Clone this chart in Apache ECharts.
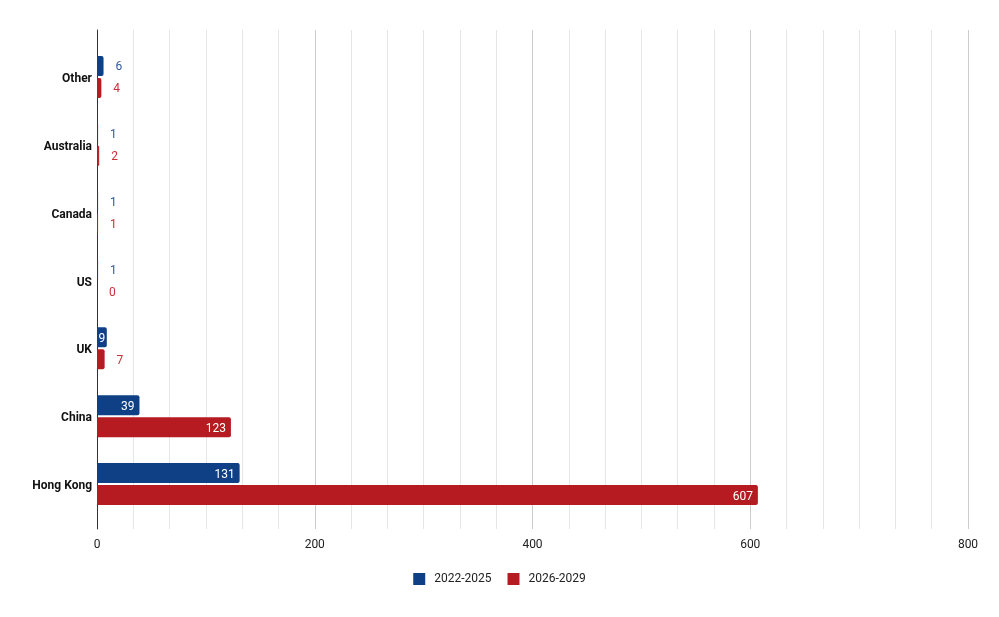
<!DOCTYPE html>
<html>
<head>
<meta charset="utf-8">
<script src="https://cdn.jsdelivr.net/npm/echarts@6/dist/echarts.min.js"></script>
<style>
  html, body { margin: 0; padding: 0; background: #fff; }
  #chart { width: 999px; height: 617px; }
</style>
</head>
<body>
<div id="chart"></div>
<script>
  // data, bottom to top
  const categories = ['Hong Kong', 'China', 'UK', 'US', 'Canada', 'Australia', 'Other'];
  const seriesNames = ['2022-2025', '2026-2029'];
  const values2022 = [131, 39, 9, 1, 1, 1, 6];
  const values2026 = [607, 123, 7, 0, 1, 2, 4];
  const xTicks = [0, 200, 400, 600, 800];

  const colors = ['#0f4086', '#b61b22'];
  const labelColors = ['#2f57a0', '#c8313a'];

  // small bars get their label outside, the rest inside at the end
  function buildData(values, i) {
    return values.map(v => {
      let label;
      if (v < 8) {
        label = { position: 'right', distance: 12, color: labelColors[i] };
      } else if (v < 20) {
        label = { position: 'inside', color: '#fff' };
      } else {
        label = { position: 'insideRight', distance: 5, color: '#fff' };
      }
      // very thin bars: thin outline so they stay visible next to the axis
      const thin = v > 0 && v < 3;
      return {
        value: v,
        label: label,
        itemStyle: thin
          ? { borderRadius: 0, borderColor: colors[i], borderWidth: 1 }
          : { borderRadius: [0, 2, 2, 0] }
      };
    });
  }

  const chart = echarts.init(document.getElementById('chart'));
  const option = {
    backgroundColor: '#fff',
    textStyle: { fontFamily: 'Roboto' },
    legend: {
      bottom: 27,
      left: 'center',
      itemWidth: 12,
      itemHeight: 12,
      itemGap: 16,
      icon: 'rect',
      data: seriesNames,
      textStyle: { fontSize: 12, color: '#222', fontFamily: 'Roboto', padding: [0, 0, 0, 4] }
    },
    grid: [
      { left: 97, right: 31, top: 30, bottom: 88 },
      { left: 97, right: 31, top: 43, bottom: 99 }
    ],
    xAxis: [
      {
        gridIndex: 0,
        type: 'value',
        min: xTicks[0],
        max: xTicks[xTicks.length - 1],
        interval: 200,
        axisLine: { show: false },
        axisTick: { show: false },
        axisLabel: { margin: 10, fontSize: 12, color: '#222', fontFamily: 'Roboto' },
        splitLine: { show: true, lineStyle: { color: '#cccccc', width: 1 } },
        minorTick: { show: false, splitNumber: 6 },
        minorSplitLine: { show: true, lineStyle: { color: '#e6e6e6', width: 1 } }
      },
      {
        gridIndex: 1,
        type: 'value',
        min: xTicks[0],
        max: xTicks[xTicks.length - 1],
        show: false
      }
    ],
    yAxis: [
      {
        gridIndex: 0,
        type: 'value',
        offset: 1,
        axisLine: { show: true, lineStyle: { color: '#333', width: 1 } },
        axisTick: { show: false },
        axisLabel: { show: false },
        splitLine: { show: false }
      },
      {
        gridIndex: 1,
        type: 'category',
        data: categories,
        axisLine: { show: false },
        axisTick: { show: false },
        axisLabel: {
          margin: 5,
          formatter: v => '{c|' + v + '}',
          rich: {
            c: {
              fontSize: 12,
              fontWeight: 'bold',
              color: '#111',
              fontFamily: 'Roboto',
              padding: [4, 0, 0, 0]
            }
          }
        }
      }
    ],
    series: [values2022, values2026].map((vals, i) => ({
      name: seriesNames[i],
      type: 'bar',
      xAxisIndex: 1,
      yAxisIndex: 1,
      barWidth: 20,
      barGap: '10%',
      data: buildData(vals, i),
      itemStyle: { color: colors[i] },
      label: { show: true, fontSize: 12, fontFamily: 'Roboto', offset: [0, 1.5] }
    }))
  };
  chart.setOption(option);
</script>
</body>
</html>
